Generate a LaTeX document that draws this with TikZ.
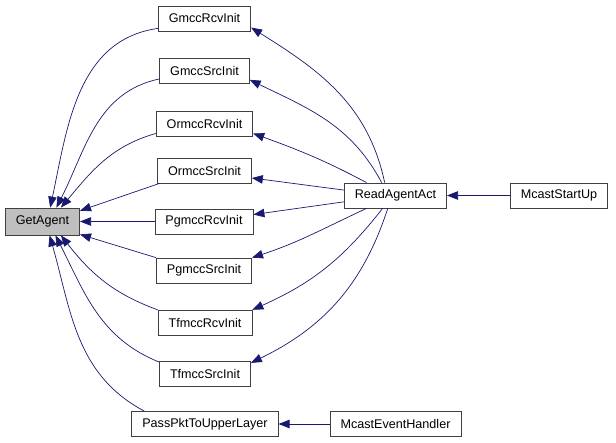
\documentclass[tikz,border=0pt]{standalone}
\usepackage{fontspec}
\setmainfont{Liberation Sans}
\usetikzlibrary{arrows.meta}

\definecolor{edgeblue}{HTML}{191970}
\definecolor{focusgray}{HTML}{BFBFBF}

\begin{document}
\begin{tikzpicture}[x=1pt, y=-1pt,
    fn/.style={draw=black!75, line width=0.8pt, fill=white, rectangle,
               inner xsep=10.5pt, inner ysep=0pt, minimum height=25pt,
               font=\fontsize{12.6}{14}\selectfont},
    edge/.style={draw=edgeblue, line width=0.7pt,
                 -{Triangle[length=11pt, width=8.5pt]}}]
            \useasboundingbox (0,0) rectangle (616,443);

            \node[fn, fill=focusgray, minimum height=27pt] (GA) at (42.5,221.5) {GetAgent};
            \node[fn] (GRI) at (204.5,18.5) {GmccRcvInit};
            \node[fn] (GSI) at (204.5,71) {GmccSrcInit};
            \node[fn] (ORI) at (204.5,124) {OrmccRcvInit};
            \node[fn] (OSI) at (204.5,170.5) {OrmccSrcInit};
            \node[fn] (PRI) at (204,221.5) {PgmccRcvInit};
            \node[fn] (PSI) at (204,270.5) {PgmccSrcInit};
            \node[fn] (TRI) at (205,322.5) {TfmccRcvInit};
            \node[fn] (TSI) at (205,373.5) {TfmccSrcInit};
            \node[fn] (PPU) at (205,424) {PassPktToUpperLayer};
            \node[fn] (RAA) at (395.5,195.5) {ReadAgentAct};
            \node[fn] (MSU) at (559,195.5) {McastStartUp};
            \node[fn] (MEH) at (395.5,424) {McastEventHandler};

            % callers of GetAgent
            \draw[edge] (GRI.192) to[out=188, in=78] (GA.61);
            \draw[edge] (GSI.190) to[out=192, in=63] (GA.45);
            \draw[edge] (ORI.191) to[out=196, in=50] (GA.37);
            \draw[edge] (OSI.196) -- (GA.16);
            \draw[edge] (PRI.west) -- (GA.east);
            \draw[edge] (PSI.165) -- (GA.341);
            \draw[edge] (TRI.165) to[out=160, in=-52] (GA.323);
            \draw[edge] (TSI.166) to[out=158, in=-63] (GA.313);
            \draw[edge] (PPU.168) to[out=152, in=-74] (GA.297);

            % callers of the init functions
            \draw[edge] (RAA.130) to[out=102, in=-32] (GRI.349);
            \draw[edge] (RAA.137) to[out=118, in=-26] (GSI.349);
            \draw[edge] (RAA.156) to[out=152, in=-20] (ORI.349);
            \draw[edge] (RAA.174) -- (OSI.351);
            \draw[edge] (RAA.187) -- (PRI.8);
            \draw[edge] (RAA.204) to[out=205, in=18] (PSI.15);
            \draw[edge] (RAA.225) to[out=232, in=24] (TRI.15);
            \draw[edge] (RAA.239) to[out=252, in=26] (TSI.13);

            \draw[edge] (MSU.west) -- (RAA.east);
            \draw[edge] (MEH.west) -- (PPU.east);
        \end{tikzpicture}
\end{document}
